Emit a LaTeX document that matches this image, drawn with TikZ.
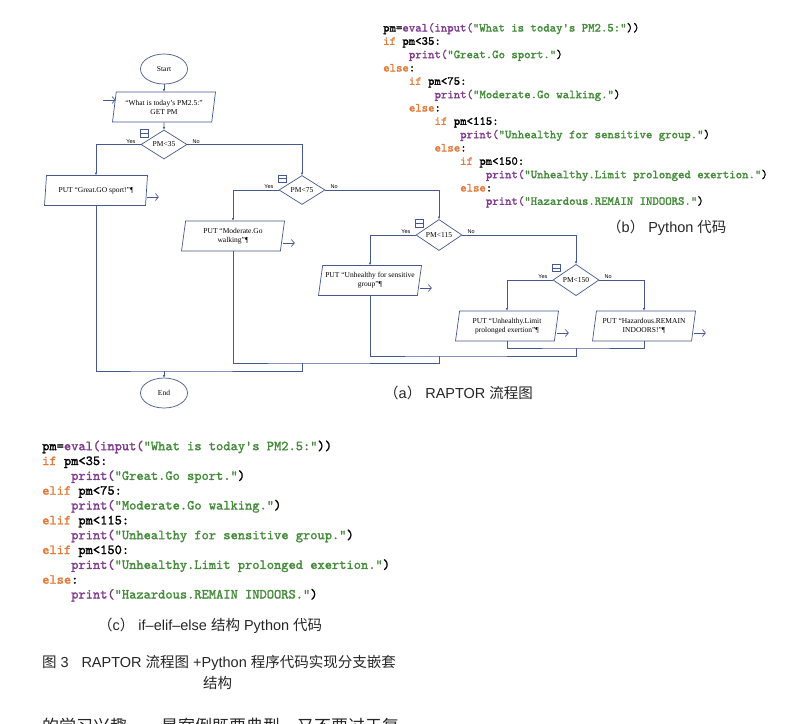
\documentclass[tikz,border=0pt]{standalone}
\usepackage{fontspec}
\setmainfont{Liberation Serif}
\newfontfamily\cjk{Noto Sans CJK SC}
\newfontfamily\sansfont{Liberation Sans}
\newfontfamily\codefont{lmmono10-regular.otf}[FakeBold=1.6]
\usetikzlibrary{shapes.geometric,arrows.meta}

\definecolor{flowblue}{RGB}{70,88,146}
\definecolor{pypurple}{RGB}{128,58,142}
\definecolor{pygreen}{RGB}{68,140,58}
\definecolor{pyorange}{RGB}{226,122,58}
\definecolor{captiongray}{RGB}{38,38,38}

\newcommand{\pykw}[1]{\textcolor{pyorange}{#1}}
\newcommand{\pyfn}[1]{\textcolor{pypurple}{#1}}
\newcommand{\pystr}[1]{\textcolor{pygreen}{#1}}

\tikzset{
  flowtext/.style={font=\fontsize{7.5}{9}\selectfont, text=black},
  terminal/.style={ellipse, draw=flowblue, line width=0.7pt, minimum width=47pt, minimum height=30pt, flowtext},
  iobox/.style={trapezium, trapezium left angle=77, trapezium right angle=103, trapezium stretches body,
    draw=flowblue, line width=0.7pt, minimum width=103pt, minimum height=30pt, align=center, inner sep=1pt, flowtext},
  test/.style={diamond, draw=flowblue, line width=0.7pt, minimum width=46pt, minimum height=29pt, inner sep=0pt, flowtext},
  icon/.style={draw=flowblue, line width=0.6pt, minimum size=7.5pt, inner sep=0pt,
    path picture={\draw[flowblue, line width=0.6pt] (path picture bounding box.west) -- (path picture bounding box.east);}},
  yesno/.style={font=\sansfont\fontsize{5.5}{6}\selectfont, inner sep=0pt},
  flow/.style={draw=flowblue, line width=0.8pt},
  flowarrow/.style={flow, -{Latex[length=2.5pt,width=2.5pt]}},
  outarrow/.style={draw=flowblue, line width=0.7pt, -{Straight Barb[length=3pt,width=7pt]}},
  codeb/.style={font=\codefont\fontsize{12.2}{13}\selectfont, anchor=base west, inner sep=0pt},
  codec/.style={font=\codefont\fontsize{13.8}{14}\selectfont, anchor=base west, inner sep=0pt},
  caption/.style={font=\sansfont\fontsize{14.5}{17}\selectfont, text=captiongray, inner sep=0pt},
}

\begin{document}
\begin{tikzpicture}[x=1pt, y=-1pt]
  \fill[white] (0,0) rectangle (802,723);
  \useasboundingbox (0,0) rectangle (802,723);

  % (a) flow chart
  \node[terminal] (start) at (164,69) {Start};
  \node[iobox] (input) at (164,107) {``What is today's PM2.5:''\\GET PM};
  \node[test] (d35) at (164,144.5) {PM<35};
  \node[iobox] (great) at (96,190.5) {PUT ``Great.GO sport!''¶};
  \node[test] (d75) at (302,190) {PM<75};
  \node[iobox] (moderate) at (233,236) {PUT ``Moderate.Go\\walking''¶};
  \node[test] (d115) at (439,235) {PM<115};
  \node[iobox] (sens) at (370,280.5) {PUT ``Unhealthy for sensitive\\group''¶};
  \node[test] (d150) at (576,280) {PM<150};
  \node[iobox] (limit) at (507,326) {PUT ``Unhealthy.Limit\\prolonged exertion''¶};
  \node[iobox] (hazard) at (644,326) {PUT ``Hazardous.REMAIN\\INDOORS!''¶};
  \node[terminal] (end) at (164,393) {End};

  \coordinate (m1) at (164,371);
  \coordinate (m2) at (302,363);
  \coordinate (m3) at (439,356);
  \coordinate (m4) at (576,348);

  \draw[flowarrow] (start) -- (input);
  \draw[flowarrow] (input) -- (d35);
  \draw[flowarrow] (d35.west) -| (great.north);
  \draw[flowarrow] (d35.east) -| (d75.north);
  \draw[flowarrow] (d75.west) -| (moderate.north);
  \draw[flowarrow] (d75.east) -| (d115.north);
  \draw[flowarrow] (d115.west) -| (sens.north);
  \draw[flowarrow] (d115.east) -| (d150.north);
  \draw[flowarrow] (d150.west) -| (limit.north);
  \draw[flowarrow] (d150.east) -| (hazard.north);

  % merging lines
  \draw[flow] (limit.south) |- (m4) -| (hazard.south);
  \draw[flow] (sens.south) |- (m3) -| (m4);
  \draw[flow] (moderate.south) |- (m2) -| (m3);
  \draw[flow] (great.south) |- (m1) -| (m2);
  \draw[flowarrow] (m1) -- (end);

  % input and output marks
  \draw[outarrow] ([xshift=-11pt,yshift=7pt]input.west) -- ([xshift=1.5pt,yshift=7pt]input.west);
  \draw[outarrow] ([yshift=-6.5pt]great.east) -- ++(12,0);
  \draw[outarrow] ([yshift=-7pt]moderate.east) -- ++(12,0);
  \draw[outarrow] ([yshift=-7.5pt]sens.east) -- ++(12,0);
  \draw[outarrow] ([yshift=-7pt]limit.east) -- ++(12,0);
  \draw[outarrow] ([yshift=-7pt]hazard.east) -- ++(12,0);

  \node[yesno, anchor=base east] (yes35) at ([xshift=-5pt,yshift=1.5pt]d35.west) {Yes};
  \node[yesno, anchor=base west] (no35) at ([xshift=5pt,yshift=1.5pt]d35.east) {No};
  \node[yesno, anchor=base east] (yes75) at ([xshift=-5pt,yshift=1.5pt]d75.west) {Yes};
  \node[yesno, anchor=base west] (no75) at ([xshift=5pt,yshift=1.5pt]d75.east) {No};
  \node[yesno, anchor=base east] (yes115) at ([xshift=-5pt,yshift=1.5pt]d115.west) {Yes};
  \node[yesno, anchor=base west] (no115) at ([xshift=5pt,yshift=1.5pt]d115.east) {No};
  \node[yesno, anchor=base east] (yes150) at ([xshift=-5pt,yshift=1.5pt]d150.west) {Yes};
  \node[yesno, anchor=base west] (no150) at ([xshift=5pt,yshift=1.5pt]d150.east) {No};

  \node[icon] (i35) at ([xshift=-8pt,yshift=4pt]d35.north west) {};
  \node[icon] (i75) at ([xshift=-8pt,yshift=4pt]d75.north west) {};
  \node[icon] (i115) at ([xshift=-8pt,yshift=4pt]d115.north west) {};
  \node[icon] (i150) at ([xshift=-8pt,yshift=4pt]d150.north west) {};

  % (b) nested python code
  \node[codeb] (b1) at (383,31.5) {pm=\pyfn{eval(input(}\pystr{"What is today's PM2.5:"}))};
  \node[codeb] (b2) at (383,44.8) {\pykw{if} pm<35:};
  \node[codeb] (b3) at (408.7,58.2) {\pyfn{print(}\pystr{"Great.Go sport."})};
  \node[codeb] (b4) at (383,71.5) {\pykw{else}:};
  \node[codeb] (b5) at (408.7,84.8) {\pykw{if} pm<75:};
  \node[codeb] (b6) at (434.4,98.2) {\pyfn{print(}\pystr{"Moderate.Go walking."})};
  \node[codeb] (b7) at (408.7,111.5) {\pykw{else}:};
  \node[codeb] (b8) at (434.4,124.8) {\pykw{if} pm<115:};
  \node[codeb] (b9) at (460,138.2) {\pyfn{print(}\pystr{"Unhealthy for sensitive group."})};
  \node[codeb] (b10) at (434.4,151.5) {\pykw{else}:};
  \node[codeb] (b11) at (460,164.8) {\pykw{if} pm<150:};
  \node[codeb] (b12) at (485.7,178.2) {\pyfn{print(}\pystr{"Unhealthy.Limit prolonged exertion."})};
  \node[codeb] (b13) at (460,191.5) {\pykw{else}:};
  \node[codeb] (b14) at (485.7,204.8) {\pyfn{print(}\pystr{"Hazardous.REMAIN INDOORS."})};

  % (c) if-elif-else python code
  \node[codec] (c1) at (42,450.2) {pm=\pyfn{eval(input(}\pystr{"What is today's PM2.5:"}))};
  \node[codec] (c2) at (42,465) {\pykw{if} pm<35:};
  \node[codec] (c3) at (71,479.9) {\pyfn{print(}\pystr{"Great.Go sport."})};
  \node[codec] (c4) at (42,494.7) {\pykw{elif} pm<75:};
  \node[codec] (c5) at (71,509.5) {\pyfn{print(}\pystr{"Moderate.Go walking."})};
  \node[codec] (c6) at (42,524.4) {\pykw{elif} pm<115:};
  \node[codec] (c7) at (71,539.2) {\pyfn{print(}\pystr{"Unhealthy for sensitive group."})};
  \node[codec] (c8) at (42,554) {\pykw{elif} pm<150:};
  \node[codec] (c9) at (71,568.9) {\pyfn{print(}\pystr{"Unhealthy.Limit prolonged exertion."})};
  \node[codec] (c10) at (42,583.7) {\pykw{else}:};
  \node[codec] (c11) at (71,598.5) {\pyfn{print(}\pystr{"Hazardous.REMAIN INDOORS."})};

  % captions
  \node[caption, anchor=west] (capa) at (384,393) {{\cjk （}a{\cjk ）} RAPTOR {\cjk 流程图}};
  \node[caption, anchor=west] (capb) at (607,228) {{\cjk （}b{\cjk ）} Python {\cjk 代码}};
  \node[caption, anchor=west] (capc) at (98,626) {{\cjk （}c{\cjk ）} if–elif–else {\cjk 结构} Python {\cjk 代码}};
  \node[caption, anchor=west] (fig1) at (42,663) {{\cjk 图} 3\hspace{0.6em} RAPTOR {\cjk 流程图} +Python {\cjk 程序代码实现分支嵌套}};
  \node[caption] (fig2) at (217.5,683) {\cjk 结构};
  \node[caption, font=\cjk\fontsize{17}{18}\selectfont, anchor=base west] (body) at (42,732) {的学习兴趣，一是案例既要典型，又不要过于复};
\end{tikzpicture}
\end{document}
